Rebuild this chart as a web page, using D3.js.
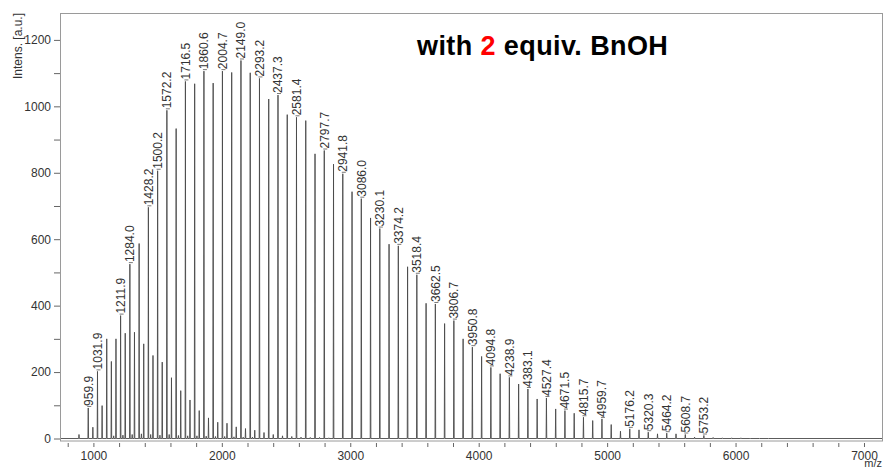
<!DOCTYPE html>
<html>
<head>
<meta charset="utf-8">
<script src="https://cdn.jsdelivr.net/npm/d3@7"></script>
<style>
  body { margin: 0; background: #fff; }
  svg { display: block; font-family: "Liberation Sans", Arial, sans-serif; }
</style>
</head>
<body>
<div id="chrt"></div>
<script>
// main oligomer series (m/z, intensity)
const mainMz = [995.9, 1067.9, 1139.9, 1211.9, 1284.0, 1356.1, 1428.2, 1500.2, 1572.2, 1644.3,
  1716.5, 1788.5, 1860.6, 1932.6, 2004.7, 2076.8, 2149.0, 2221.1, 2293.2, 2365.2,
  2437.3, 2509.3, 2581.4, 2653.5, 2725.6, 2797.7, 2869.7, 2941.8, 3013.9, 3086.0,
  3158.0, 3230.1, 3302.1, 3374.2, 3446.3, 3518.4, 3590.4, 3662.5, 3734.6, 3806.7,
  3878.7, 3950.8, 4022.8, 4094.8, 4166.9, 4238.9, 4311.0, 4383.1, 4455.2, 4527.4,
  4599.4, 4671.5, 4743.6, 4815.7, 4887.7, 4959.7, 5031.8, 5103.9, 5176.2, 5248.2,
  5320.3, 5392.3, 5464.2, 5536.5, 5608.7, 5680.9, 5753.2, 5825.3, 5897.4, 5969.5,
  6041.6, 6113.7, 6185.8, 6257.9];
const mainInt = [34, 99, 232, 370, 525, 587, 696, 806, 988, 933,
  1075, 1068, 1106, 1070, 1106, 1102, 1138, 1101, 1084, 1022,
  1034, 975, 967, 957, 857, 867, 826, 797, 743, 722,
  664, 632, 585, 580, 517, 493, 407, 405, 346, 355,
  300, 275, 247, 214, 195, 184, 164, 149, 119, 122,
  89, 84, 76, 64, 54, 59, 42, 22, 29, 26,
  19, 14, 16, 14, 12, 4, 9, 3, 2, 2,
  2, 1.5, 1.5, 1.5];

// second, smaller series
const sideMz = [887.9, 959.9, 1031.9, 1103.9, 1175.9, 1247.9, 1319.9, 1391.9, 1464.0, 1536.0,
  1608.0, 1680.1, 1752.1, 1824.1, 1896.2, 1968.2, 2040.2, 2112.3, 2184.3, 2256.4,
  2328.4, 2400.5, 2472.5, 2544.6, 2616.6, 2688.7, 2760.7, 2832.8];
const sideInt = [12, 92, 202, 300, 300, 317, 320, 285, 250, 230,
  183, 144, 116, 84, 62, 49, 46, 35, 30, 25,
  18, 12, 8, 6, 4, 3, 3, 2];

// small stuff near the baseline
const minorMz = [1157.9, 1229.9, 1301.9, 1373.9, 1445.9, 1518.0, 1590.0, 1662.1, 1734.1, 1806.1,
  1878.2, 1950.2, 2022.2, 2094.3, 2166.3, 2238.4];
const minorInt = [8, 10, 12, 14, 12, 10, 12, 9, 8, 8, 7, 6, 6, 5, 4, 4];

const peakLabels = [959.9, 1031.9, 1211.9, 1284.0, 1428.2, 1500.2, 1572.2, 1716.5, 1860.6, 2004.7,
  2149.0, 2293.2, 2437.3, 2581.4, 2797.7, 2941.8, 3086.0, 3230.1, 3374.2, 3518.4,
  3662.5, 3806.7, 3950.8, 4094.8, 4238.9, 4383.1, 4527.4, 4671.5, 4815.7, 4959.7,
  5176.2, 5320.3, 5464.2, 5608.7, 5753.2];

const xTickLabels = [1000, 2000, 3000, 4000, 5000, 6000, 7000];
const yTickLabels = [0, 200, 400, 600, 800, 1000, 1200];

const width = 885, height = 468;
const plot = { left: 60, right: 883, top: 13, bottom: 441 };

const scaleX = d3.scaleLinear().domain([740, 7148]).range([plot.left, plot.right]);
const scaleY = d3.scaleLinear().domain([0, 1281]).range([438.5, plot.top]);

const svg = d3.select('#chrt').append('svg')
    .attr('width', width)
    .attr('height', height);

// all peaks in one list
const peaks = [];
mainMz.forEach((m, i) => peaks.push({ mz: m, value: mainInt[i] }));
sideMz.forEach((m, i) => peaks.push({ mz: m, value: sideInt[i] }));
minorMz.forEach((m, i) => peaks.push({ mz: m, value: minorInt[i] }));
peaks.sort((a, b) => a.mz - b.mz);

// spectrum path: baseline -> tip -> baseline for every peak
const pts = [{ mz: 742, value: 0 }];
peaks.forEach((p) => {
  pts.push({ mz: p.mz - 2.5, value: 0 });
  pts.push({ mz: p.mz, value: p.value });
  pts.push({ mz: p.mz + 2.5, value: 0 });
});
pts.push({ mz: 7146, value: 0 });

svg.append('path')
    .attr('fill', 'none')
    .attr('stroke', '#4a4a4a')
    .attr('stroke-width', 0.9)
    .attr('d', d3.line().x((d) => scaleX(d.mz)).y((d) => scaleY(d.value))(pts));

// frame
svg.append('rect')
    .attr('x', plot.left + 0.5)
    .attr('y', plot.top + 0.5)
    .attr('width', plot.right - plot.left - 1)
    .attr('height', plot.bottom - plot.top - 0.5)
    .attr('fill', 'none')
    .attr('stroke', '#9a9a9a')
    .attr('stroke-width', 1);

// x axis (ticks hang a bit below the frame)
const xAxis = d3.axisBottom(scaleX)
    .tickValues(d3.range(800, 7001, 200))
    .tickSize(4)
    .tickPadding(4.5)
    .tickFormat((d) => xTickLabels.includes(d) ? d : '');
const gx = svg.append('g').attr('transform', 'translate(0,443)').call(xAxis);
gx.select('.domain').remove();
gx.selectAll('line').attr('stroke', '#666');
gx.selectAll('text').attr('fill', '#333').style('font-size', '12px').style('font-family', '"Liberation Sans", Arial, sans-serif');

// y axis
const yAxis = d3.axisLeft(scaleY)
    .tickValues(d3.range(0, 1201, 100))
    .tickSize(6)
    .tickPadding(3)
    .tickFormat((d) => yTickLabels.includes(d) ? d : '');
const gy = svg.append('g').attr('transform', 'translate(' + plot.left + ',0)').call(yAxis);
gy.select('.domain').remove();
gy.selectAll('line').attr('stroke', '#666');
gy.selectAll('text').attr('fill', '#333').style('font-size', '12px').style('font-family', '"Liberation Sans", Arial, sans-serif');

// axis titles
svg.append('text')
    .attr('transform', 'translate(22,13) rotate(-90)')
    .attr('text-anchor', 'end')
    .attr('fill', '#333')
    .style('font-size', '12px')
    .text('Intens. [a.u.]');

svg.append('text')
    .attr('x', 882)
    .attr('y', 467)
    .attr('text-anchor', 'end')
    .attr('fill', '#333')
    .style('font-size', '11px')
    .text('m/z');

// peak labels
const labelled = peakLabels.map((m) => {
  const p = peaks.find((q) => Math.abs(q.mz - m) < 0.05);
  return { mz: m, value: p ? p.value : 0 };
});

svg.selectAll('.lblTick')
    .data(labelled)
    .enter().append('line')
    .attr('x1', (d) => scaleX(d.mz) - 1)
    .attr('x2', (d) => scaleX(d.mz) + 3)
    .attr('y1', (d) => scaleY(d.value) - 1.5)
    .attr('y2', (d) => scaleY(d.value) - 1.5)
    .attr('stroke', '#555')
    .attr('stroke-width', 0.8);

svg.selectAll('.lbl')
    .data(labelled)
    .enter().append('text')
    .attr('transform', (d) => 'translate(' + (scaleX(d.mz) + 4.5) + ',' + (scaleY(d.value) - 2) + ') rotate(-90)')
    .attr('fill', '#333')
    .style('font-size', '12px')
    .text((d) => d.mz.toFixed(1));

// title
const title = svg.append('text')
    .attr('x', 417)
    .attr('y', 55)
    .attr('fill', '#000')
    .style('font-size', '27px')
    .style('letter-spacing', '0.4px')
    .style('font-weight', 'bold');
title.append('tspan').text('with ');
title.append('tspan').attr('fill', '#ff0000').text('2');
title.append('tspan').text(' equiv. BnOH');
</script>
</body>
</html>
